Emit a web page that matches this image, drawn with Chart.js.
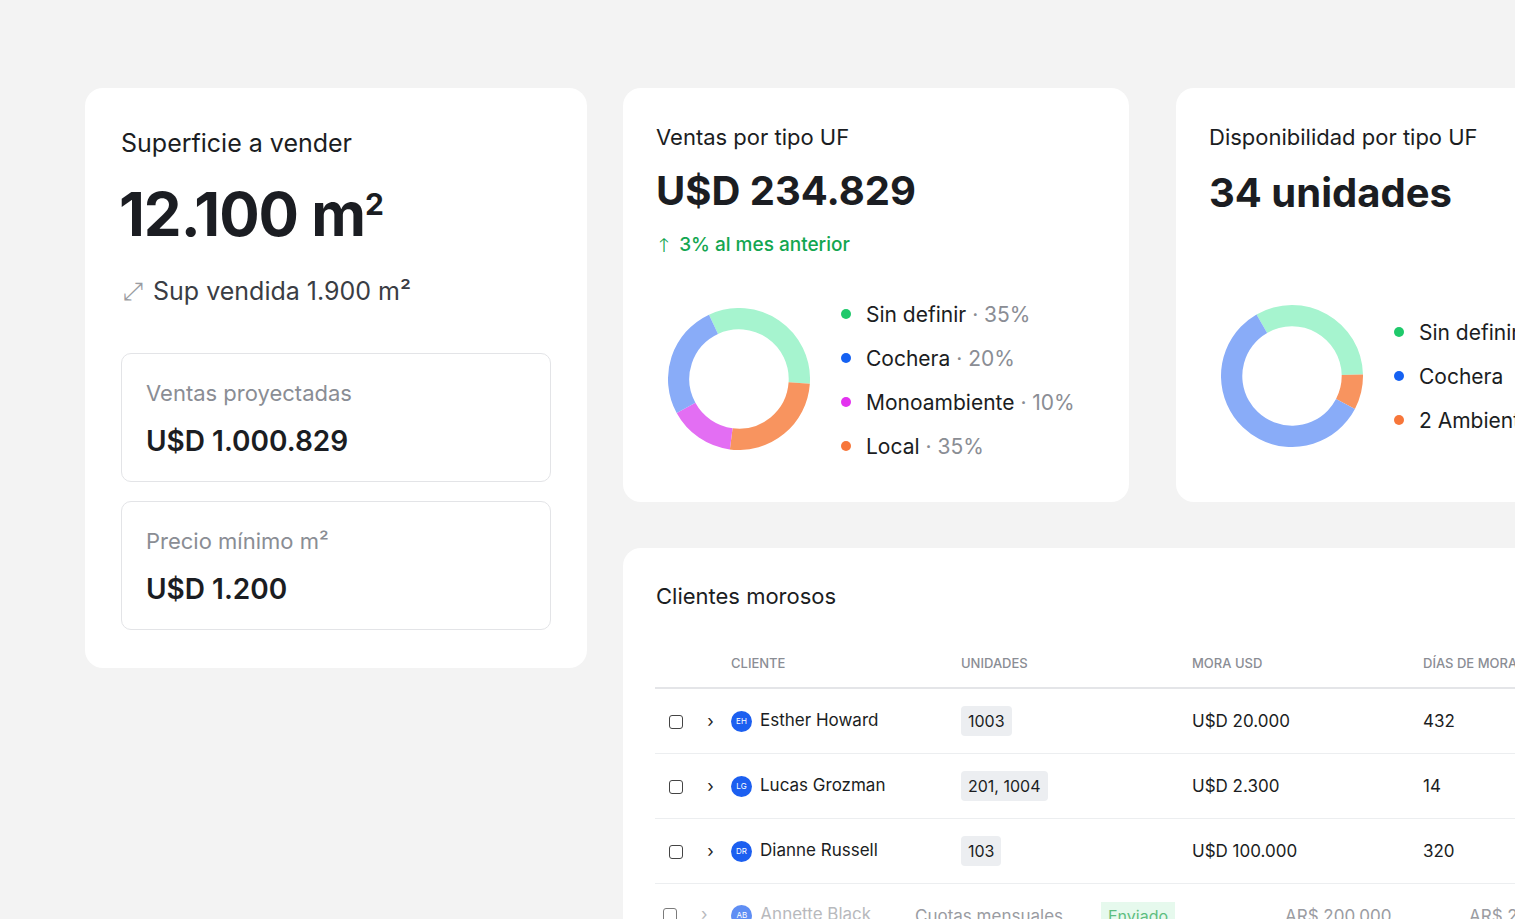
<!DOCTYPE html>
<html><head><meta charset="utf-8">
<script src="https://cdn.jsdelivr.net/npm/chart.js@4"></script>
<style>
body{margin:0;width:1515px;height:919px;overflow:hidden;background:#f3f3f3;font-family:Inter,"Noto Sans",sans-serif;color:#1b1d22;position:relative}
.card{position:absolute;background:#fff;border-radius:18px}
.t{position:absolute;white-space:nowrap}
.box{position:absolute;border:1px solid #e3e4e7;border-radius:10px;background:#fff}
.leg{position:absolute;font-size:21px;white-space:nowrap}
.leg div{height:44px;display:flex;align-items:center}
.dot{width:10px;height:10px;border-radius:50%;margin-right:15px;display:inline-block}
.g{color:#8a8d94}
table{position:absolute;border-collapse:collapse;font-size:17px;table-layout:fixed}
th,td{padding:0;white-space:nowrap;overflow:hidden}
th{font-size:13px;font-weight:500;color:#8a8d94;text-align:left;height:48px;border-bottom:2px solid #e4e5e8}
td{height:64px;border-bottom:1px solid #eceef0}
.av{display:inline-block;width:21px;height:21px;border-radius:50%;background:#1c5ff0;color:#fff;font-size:8px;text-align:center;line-height:21px;margin-right:8px;vertical-align:middle}
.pill{background:#eceef1;border-radius:4px;padding:5px 7px;font-size:16px}
.cb{display:inline-block;width:12px;height:12px;border:1.5px solid #444;border-radius:3px;vertical-align:middle}
</style></head><body>
<div class="card" style="left:85px;top:88px;width:502px;height:580px">
  <div class="t" style="left:36px;top:40px;font-size:25px">Superficie a vender</div>
  <div class="t" style="left:34px;top:90px;font-size:60px;font-weight:700;letter-spacing:-1px">12.100 m<sup style="font-size:30px">2</sup></div>
  <div class="t" style="left:38px;top:188px;font-size:25px;color:#3a3d44"><span style="color:#9a9ca2;margin-right:10px">⤢</span>Sup vendida 1.900 m²</div>
  <div class="box" style="left:36px;top:265px;width:428px;height:127px">
    <div class="t g" style="left:24px;top:26px;font-size:22px">Ventas proyectadas</div>
    <div class="t" style="left:24px;top:70px;font-size:28px;font-weight:600">U$D 1.000.829</div>
  </div>
  <div class="box" style="left:36px;top:413px;width:428px;height:127px">
    <div class="t g" style="left:24px;top:26px;font-size:22px">Precio mínimo m²</div>
    <div class="t" style="left:24px;top:70px;font-size:28px;font-weight:600">U$D 1.200</div>
  </div>
</div>
<div class="card" style="left:623px;top:88px;width:506px;height:414px">
  <div class="t" style="left:33px;top:36px;font-size:22px">Ventas por tipo UF</div>
  <div class="t" style="left:33px;top:78px;font-size:40px;font-weight:700">U$D 234.829</div>
  <div class="t" style="left:36px;top:143px;font-size:19px;color:#13a650;font-weight:500">🡑&nbsp; 3% al mes anterior</div>
  <div style="position:absolute;left:45px;top:220px;width:142px;height:142px"><canvas id="c1"></canvas></div>
  <div class="leg" id="l1" style="left:218px;top:204px"></div>
</div>
<div class="card" style="left:1176px;top:88px;width:400px;height:414px">
  <div class="t" style="left:33px;top:36px;font-size:22px">Disponibilidad por tipo UF</div>
  <div class="t" style="left:33px;top:80px;font-size:40px;font-weight:700">34 unidades</div>
  <div style="position:absolute;left:45px;top:217px;width:142px;height:142px"><canvas id="c2"></canvas></div>
  <div class="leg" id="l2" style="left:218px;top:222px"></div>
</div>
<div class="card" style="left:623px;top:548px;width:960px;height:420px">
  <div class="t" style="left:33px;top:35px;font-size:22px">Clientes morosos</div>
  <table style="left:32px;top:91px;width:880px">
    <colgroup><col style="width:76px"><col style="width:230px"><col style="width:231px"><col style="width:231px"><col></colgroup>
    <tr><th></th><th>CLIENTE</th><th>UNIDADES</th><th>MORA USD</th><th>DÍAS DE MORA</th></tr>
    <tr><td>&nbsp;&nbsp;&nbsp;<span class="cb"></span>&nbsp;&nbsp;&nbsp;&nbsp;&nbsp;›</td><td><span class="av">EH</span>Esther Howard</td><td><span class="pill">1003</span></td><td>U$D 20.000</td><td>432</td></tr>
    <tr><td>&nbsp;&nbsp;&nbsp;<span class="cb"></span>&nbsp;&nbsp;&nbsp;&nbsp;&nbsp;›</td><td><span class="av">LG</span>Lucas Grozman</td><td><span class="pill">201, 1004</span></td><td>U$D 2.300</td><td>14</td></tr>
    <tr><td>&nbsp;&nbsp;&nbsp;<span class="cb"></span>&nbsp;&nbsp;&nbsp;&nbsp;&nbsp;›</td><td><span class="av">DR</span>Dianne Russell</td><td><span class="pill">103</span></td><td>U$D 100.000</td><td>320</td></tr>
  </table>
  <div class="t" style="left:40px;top:356px;font-size:17px;color:#9a9ca2;opacity:.7"><span class="cb"></span>&nbsp;&nbsp;&nbsp;&nbsp;&nbsp;›&nbsp;&nbsp;&nbsp;&nbsp;&nbsp;<span class="av">AB</span>Annette Black</div>
  <div class="t" style="left:292px;top:358px;font-size:17px;color:#9a9ca2">Cuotas mensuales</div>
  <div class="t" style="left:478px;top:354px;font-size:16px;color:#16a34a;background:#dcf7e6;padding:4px 7px;opacity:.7">Enviado</div>
  <div class="t" style="left:662px;top:358px;font-size:17px;color:#9a9ca2">AR$ 200.000</div>
  <div class="t" style="left:846px;top:358px;font-size:17px;color:#9a9ca2">AR$ 2</div>
</div>
<script>
// ventas por tipo UF (leyenda y arcos)
var ventasTipos = ["Sin definir", "Cochera", "Monoambiente", "Local"];
var ventasPct = [35, 20, 10, 35];
var ventasArco = [33, 26, 15, 26]; // green, orange, magenta, blue como se ve
var dispTipos = ["Sin definir", "Cochera", "2 Ambientes"];
var dispArco = [33, 8, 59];
var dispPct = ["", "", ""];

var colArco1 = ["#a6f4cf", "#f8945f", "#e36ef3", "#89acf8"];
var colArco2 = ["#a6f4cf", "#f8945f", "#89acf8"];
var colDot = {"Sin definir": "#1fc96b", "Cochera": "#1561f2", "Monoambiente": "#e332ef", "Local": "#f7763a", "2 Ambientes": "#f7763a"};

function dona(id, datos, colores, rot) {
  new Chart(document.getElementById(id), {
    type: "doughnut",
    data: { datasets: [{ data: datos, backgroundColor: colores, borderWidth: 0 }] },
    options: {
      responsive: true, maintainAspectRatio: false, animation: false, cutout: "70%", rotation: rot,
      plugins: { legend: { display: false }, tooltip: { enabled: false } },
    },
  });
}
dona("c1", ventasArco, colArco1, -25);
dona("c2", dispArco, colArco2, -30);

function leyenda(id, tipos, pct) {
  var html = "";
  tipos.forEach((t, i) => {
    html += `<div><span class="dot" style="background:${colDot[t]}"></span>${t}${pct[i] ? ` <span class="g">&nbsp;·&nbsp;${pct[i]}%</span>` : ""}</div>`;
  });
  document.getElementById(id).innerHTML = html;
}
leyenda("l1", ventasTipos, ventasPct);
leyenda("l2", dispTipos, dispPct);
</script>
</body></html>
